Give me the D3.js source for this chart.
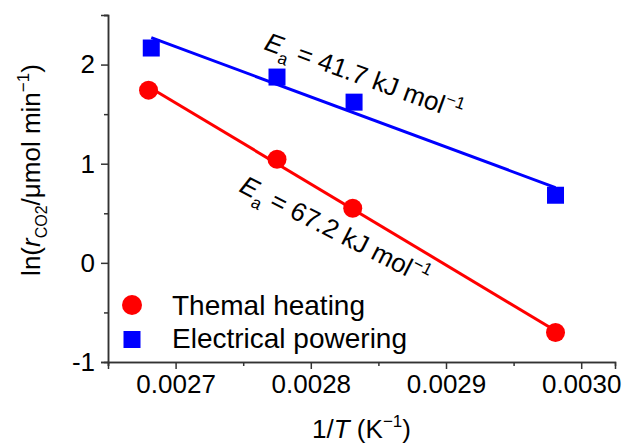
<!DOCTYPE html>
<html>
<head>
<meta charset="utf-8">
<script src="https://cdn.jsdelivr.net/npm/d3@7"></script>
<style>
  body { margin: 0; background: #fff; }
  svg { font-family: "Liberation Sans", Arial, sans-serif; }
</style>
</head>
<body>
<svg id="chart" width="627" height="447"></svg>
<script>
// data
const invT_thermal = [0.002680, 0.002775, 0.002831, 0.002981];
const lnR_thermal = [1.742, 1.045, 0.550, -0.702];
const invT_electric = [0.002682, 0.002775, 0.002832, 0.002981];
const lnR_electric = [2.167, 1.874, 1.621, 0.682];
const xMajorTicks = [0.0027, 0.0028, 0.0029, 0.0030];
const xMinorTicks = [0.00265, 0.00275, 0.00285, 0.00295];
const yMajorTicks = [-1, 0, 1, 2];
const yMinorTicks = [-0.5, 0.5, 1.5, 2.5];
const seriesNames = ["Themal heating", "Electrical powering"];
const eaLabels = ["67.2", "41.7"];

const margin = { top: 15, right: 12, bottom: 85, left: 108 };
const width = 627 - margin.left - margin.right;
const height = 447 - margin.top - margin.bottom;

const svg = d3.select("#chart");
const g = svg.append("g")
  .attr("transform", "translate(" + margin.left + "," + margin.top + ")");

const x = d3.scaleLinear().domain([0.00265, 0.003025]).range([0, width]);
const y = d3.scaleLinear().domain([-1, 2.5]).range([height, 0]);

// simple least squares fit
function fit(xs, ys) {
  const mx = d3.mean(xs), my = d3.mean(ys);
  let sxy = 0, sxx = 0;
  xs.forEach(function(v, i) {
    sxy += (v - mx) * (ys[i] - my);
    sxx += (v - mx) * (v - mx);
  });
  const k = sxy / sxx;
  return function(v) { return my + k * (v - mx); };
}

const axisColor = "#333";

// axes
const xAxis = d3.axisBottom(x).tickValues(xMajorTicks).tickSize(7).tickPadding(6)
  .tickFormat(d3.format(".4f"));
const xMinor = d3.axisBottom(x).tickValues(xMinorTicks).tickSize(4).tickFormat("");
const yAxis = d3.axisLeft(y).tickValues(yMajorTicks).tickSize(7).tickPadding(6)
  .tickFormat(function(d) { return d < 0 ? "-" + Math.abs(d) : d; });
const yMinor = d3.axisLeft(y).tickValues(yMinorTicks).tickSize(4).tickFormat("");

function styleAxis(sel) {
  sel.select(".domain").attr("stroke", axisColor).attr("stroke-width", 1.5);
  sel.selectAll(".tick line").attr("stroke", axisColor).attr("stroke-width", 1.5);
  sel.selectAll(".tick text").attr("fill", "#000").style("font-size", "26px")
    .style("font-family", "'Liberation Sans', Arial, sans-serif");
}

g.append("g").attr("class", "x axis").attr("transform", "translate(0," + height + ")")
  .call(xMinor).call(styleAxis);
g.append("g").attr("class", "x axis").attr("transform", "translate(0," + height + ")")
  .call(xAxis).call(styleAxis);
g.append("g").attr("class", "y axis").call(yMinor).call(styleAxis);
g.append("g").attr("class", "y axis").call(yAxis).call(styleAxis);

// fit lines
const series = [
  { xs: invT_thermal, ys: lnR_thermal, color: "#ff0000", shape: "circle" },
  { xs: invT_electric, ys: lnR_electric, color: "#0000ff", shape: "square" }
];

series.forEach(function(s) {
  const f = fit(s.xs, s.ys);
  const ext = d3.extent(s.xs);
  g.append("line")
    .attr("x1", x(ext[0])).attr("y1", y(f(ext[0])))
    .attr("x2", x(ext[1])).attr("y2", y(f(ext[1])))
    .attr("stroke", s.color).attr("stroke-width", 3);
});

// markers
series.forEach(function(s) {
  const pts = s.xs.map(function(v, i) { return [v, s.ys[i]]; });
  if (s.shape === "circle") {
    g.selectAll(null).data(pts).enter().append("circle")
      .attr("cx", function(d) { return x(d[0]); })
      .attr("cy", function(d) { return y(d[1]); })
      .attr("r", 9.5).attr("fill", s.color);
  } else {
    g.selectAll(null).data(pts).enter().append("rect")
      .attr("x", function(d) { return x(d[0]) - 8.5; })
      .attr("y", function(d) { return y(d[1]) - 8.5; })
      .attr("width", 17).attr("height", 17).attr("fill", s.color);
  }
});

// activation energy labels
function eaText(px, py, angle, value) {
  const t = svg.append("text")
    .attr("transform", "translate(" + px + "," + py + ") rotate(" + angle + ")")
    .style("font-size", "26px").attr("fill", "#000");
  t.append("tspan").style("font-style", "italic").text("E");
  t.append("tspan").attr("dy", 8).style("font-size", "17px").text("a");
  t.append("tspan").attr("dy", -8).text(" = " + value + " kJ mol");
  t.append("tspan").attr("dy", -11).style("font-size", "17px").text("\u22121");
}
eaText(263, 49, 20, eaLabels[1]);
eaText(238, 191, 27, eaLabels[0]);

// legend
const legend = svg.append("g");
legend.append("circle").attr("cx", 132).attr("cy", 305).attr("r", 10).attr("fill", series[0].color);
legend.append("rect").attr("x", 123.5).attr("y", 331).attr("width", 17).attr("height", 17)
  .attr("fill", series[1].color);
legend.append("text").attr("x", 172).attr("y", 315).style("font-size", "28px").text(seriesNames[0]);
legend.append("text").attr("x", 172).attr("y", 348).style("font-size", "28px").text(seriesNames[1]);

// axis titles
const xt = svg.append("text").attr("x", margin.left + width / 2).attr("y", 438)
  .attr("text-anchor", "middle").style("font-size", "26px");
xt.append("tspan").text("1/");
xt.append("tspan").style("font-style", "italic").text("T");
xt.append("tspan").text(" (K");
xt.append("tspan").attr("dy", -11).style("font-size", "17px").text("\u22121");
xt.append("tspan").attr("dy", 11).text(")");

const yt = svg.append("text")
  .attr("transform", "translate(40,170) rotate(-90)")
  .attr("text-anchor", "middle").style("font-size", "26px");
yt.append("tspan").text("ln(");
yt.append("tspan").style("font-style", "italic").text("r");
yt.append("tspan").attr("dy", 7).style("font-size", "16px").text("CO2");
yt.append("tspan").attr("dy", -7).text("/\u03bcmol min");
yt.append("tspan").attr("dy", -11).style("font-size", "17px").text("\u22121");
yt.append("tspan").attr("dy", 11).text(")");
</script>
</body>
</html>
